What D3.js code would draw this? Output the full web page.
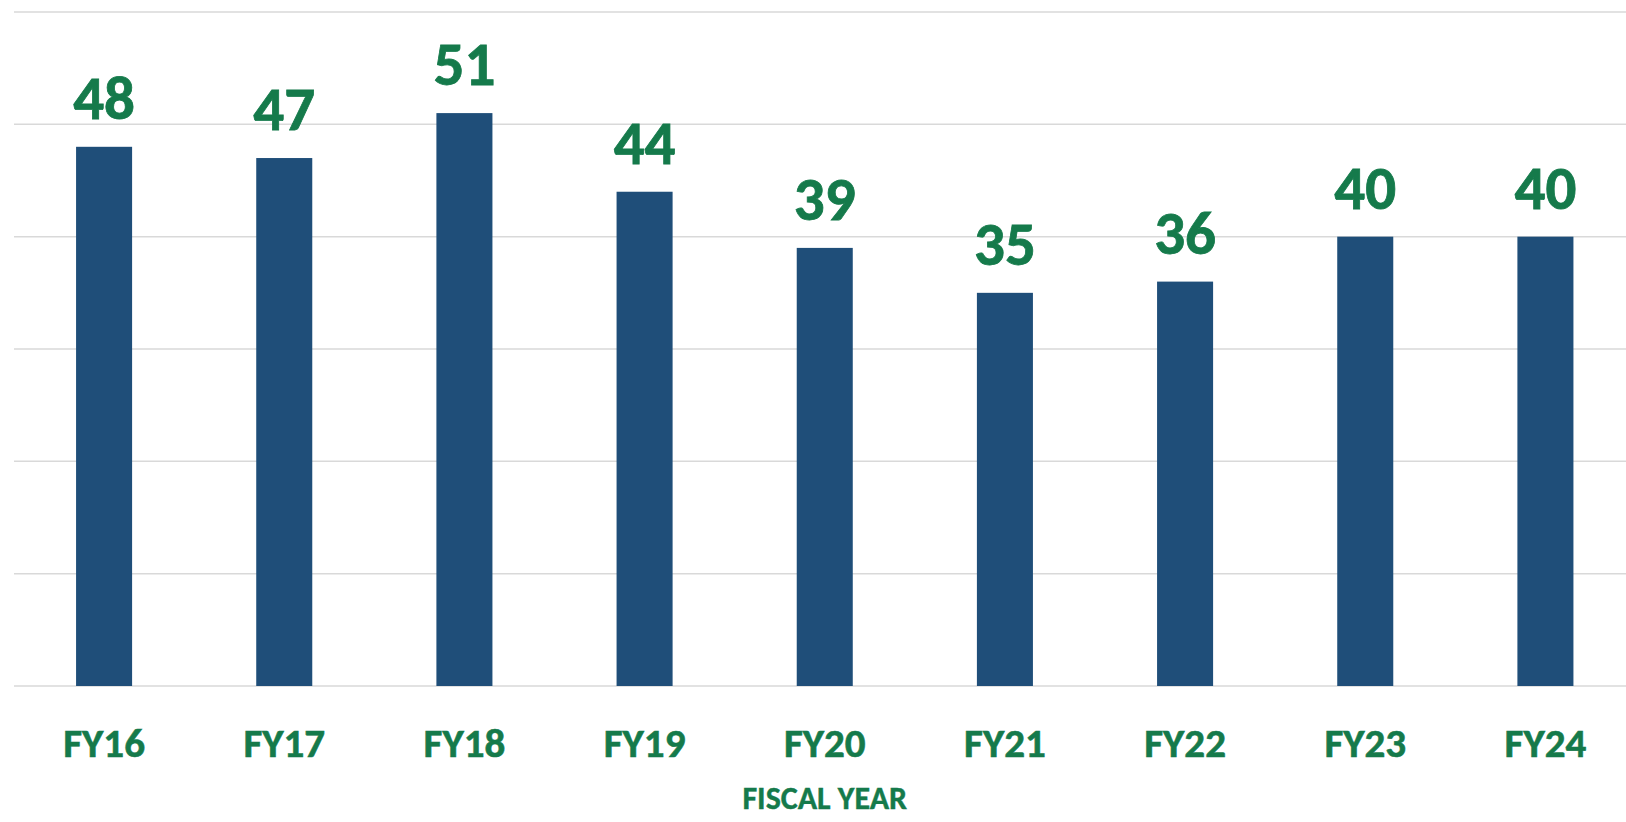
<!DOCTYPE html>
<html>
<head>
<meta charset="utf-8">
<script src="https://cdn.jsdelivr.net/npm/d3@7"></script>
<style>
  html, body { margin: 0; padding: 0; background: #fff; }
  svg text { font-family: Carlito, Calibri, Lato, "Open Sans", sans-serif; font-weight: bold; }
</style>
</head>
<body>
<div id="chart"></div>
<script>
var years = ['FY16', 'FY17', 'FY18', 'FY19', 'FY20', 'FY21', 'FY22', 'FY23', 'FY24'];
var counts = [48, 47, 51, 44, 39, 35, 36, 40, 40];
var gridTicks = [0, 10, 20, 30, 40, 50, 60];

var width = 1626, height = 822
  , green = '#157A4B'
  , blue = '#1F4E79';

var svg = d3.select('#chart').append('svg')
  .attr('width', width)
  .attr('height', height);

// plot runs past the right edge, as in the source image
var x = d3.scaleBand()
  .domain(years)
  .range([14, 1635.5])
  .paddingInner(0.689)
  .paddingOuter(0.3445);

var y = d3.scaleLinear()
  .domain([0, 60])
  .range([686, 12]);

svg.selectAll('.grid')
  .data(gridTicks)
  .enter().append('line')
  .attr('class', 'grid')
  .attr('x1', 14)
  .attr('x2', width)
  .attr('y1', function(d) { return y(d); })
  .attr('y2', function(d) { return y(d); })
  .style('stroke', '#D9D9D9')
  .style('stroke-width', 1.5);

var data = years.map(function(d, i) { return { year: d, value: counts[i] }; });

svg.selectAll('.bar')
  .data(data)
  .enter().append('rect')
  .attr('class', 'bar')
  .attr('x', function(d) { return x(d.year); })
  .attr('width', x.bandwidth())
  .attr('y', function(d) { return y(d.value); })
  .attr('height', function(d) { return y(0) - y(d.value); })
  .style('fill', blue);

svg.selectAll('.val')
  .data(data)
  .enter().append('text')
  .attr('class', 'val')
  .attr('x', function(d) { return x(d.year) + x.bandwidth() / 2; })
  .attr('y', function(d) { return y(d.value) - 28; })
  .attr('text-anchor', 'middle')
  .style('font-size', '61px')
  .style('fill', green)
  .style('stroke', green)
  .style('stroke-width', 0.8)
  .text(function(d) { return d.value; });

svg.selectAll('.cat')
  .data(years)
  .enter().append('text')
  .attr('class', 'cat')
  .attr('x', function(d) { return x(d) + x.bandwidth() / 2; })
  .attr('y', 757)
  .attr('text-anchor', 'middle')
  .style('font-size', '41px')
  .style('fill', green)
  .style('stroke', green)
  .style('stroke-width', 0.6)
  .text(function(d) { return d; });

svg.append('text')
  .attr('x', (x.range()[0] + x.range()[1]) / 2)
  .attr('y', 809)
  .attr('text-anchor', 'middle')
  .style('font-size', '32px')
  .style('fill', green)
  .style('stroke', green)
  .style('stroke-width', 0.4)
  .text('FISCAL YEAR');
</script>
</body>
</html>
